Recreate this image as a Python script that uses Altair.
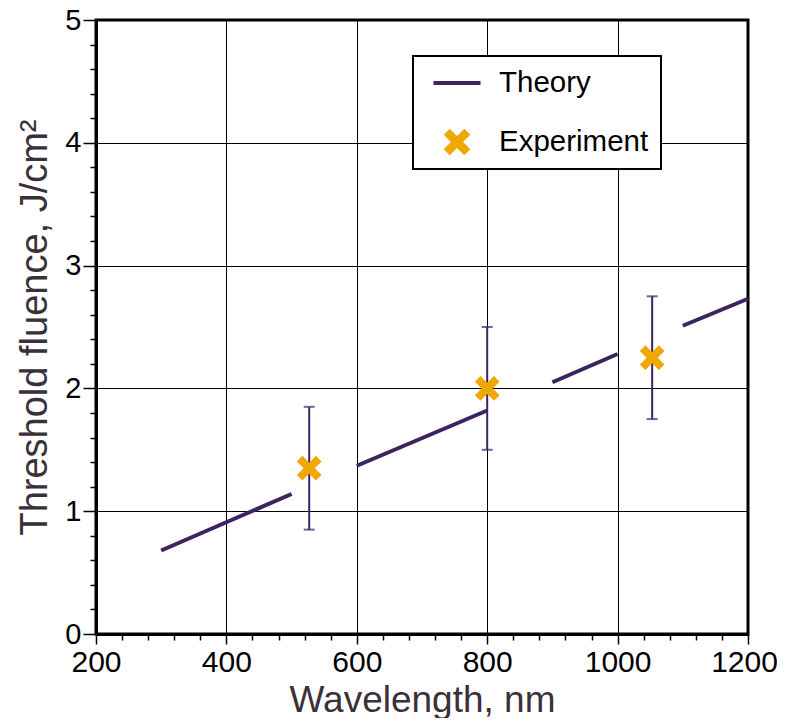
import altair as alt
import pandas as pd

# ---- data ----
theory_x = [300, 500, 600, 800, 900, 1000, 1100, 1200]
theory_y = [0.68, 1.14, 1.37, 1.82, 2.05, 2.28, 2.51, 2.73]
theory_seg = [1, 1, 2, 2, 3, 3, 4, 4]

exp_x = [527, 800, 1053]
exp_y = [1.35, 2.0, 2.25]
exp_lo = [0.85, 1.5, 1.75]
exp_hi = [1.85, 2.5, 2.75]

series = ["Theory", "Experiment"]
x_ticks = [200, 240, 280, 320, 360, 400, 440, 480, 520, 560, 600, 640, 680, 720, 760, 800,
           840, 880, 920, 960, 1000, 1040, 1080, 1120, 1160, 1200]
y_ticks = [0, 0.2, 0.4, 0.6, 0.8, 1, 1.2, 1.4, 1.6, 1.8, 2, 2.2, 2.4, 2.6, 2.8, 3,
           3.2, 3.4, 3.6, 3.8, 4, 4.2, 4.4, 4.6, 4.8, 5]

PURPLE = "#3d2461"
ORANGE = "#f0a800"
TITLE_COLOR = "#3b3038"
FONT = "Liberation Sans"

theory = pd.DataFrame({"x": theory_x, "y": theory_y, "seg": theory_seg})
exp = pd.DataFrame({"x": exp_x, "y": exp_y, "lo": exp_lo, "hi": exp_hi,
                    "series": ["Experiment"] * len(exp_x)})

LINE_PATH = "M-1.68,-0.14L1.68,-0.14L1.68,0.14L-1.68,0.14Z"
X_PATH = ("M-0.95,-0.52L-0.52,-0.95L0,-0.43L0.52,-0.95L0.95,-0.52L0.43,0L0.95,0.52"
          "L0.52,0.95L0,0.43L-0.52,0.95L-0.95,0.52L-0.43,0Z")

xmajor = "datum.value % 200 === 0"
ymajor = "abs(datum.value - round(datum.value)) < 1e-6"

x_scale = alt.Scale(domain=[200, 1200], nice=False, zero=False)
y_scale = alt.Scale(domain=[0, 5], nice=False)

x_axis = alt.Axis(
    values=x_ticks,
    tickCount=100,
    format="d",
    labelOverlap=False,
    labelExpr=f"{xmajor} ? datum.label : ''",
    labelOffset={"condition": {"test": "datum.value === 1200", "value": -4}, "value": 0},
    tickSize={"condition": {"test": xmajor, "value": 10}, "value": 6},
    gridOpacity={"condition": {"test": xmajor, "value": 1}, "value": 0},
    title="Wavelength, nm",
)
y_axis = alt.Axis(
    values=y_ticks,
    tickCount=100,
    format="~g",
    labelOverlap=False,
    labelExpr=f"{ymajor} ? datum.label : ''",
    tickSize={"condition": {"test": ymajor, "value": 13}, "value": 6},
    gridOpacity={"condition": {"test": ymajor, "value": 1}, "value": 0},
    title="Threshold fluence, J/cm²",
)

legend = alt.Legend(
    title=None,
    orient="none",
    legendX=317,
    legendY=36,
    padding=12,
    rowPadding=29,
    symbolSize=784,
    symbolOffset=17,
    labelOffset=27,
    labelFontSize=29.5,
    labelFont=FONT,
    labelColor="black",
    fillColor="white",
    strokeColor="black",
)

base_x = alt.X("x:Q", scale=x_scale, axis=x_axis)

line = alt.Chart(theory).mark_line(strokeWidth=4, color=PURPLE).encode(
    x=base_x,
    y=alt.Y("y:Q", scale=y_scale, axis=y_axis),
    detail="seg:N",
)

rule = alt.Chart(exp).mark_rule(strokeWidth=2, color=PURPLE).encode(
    x="x:Q", y="lo:Q", y2="hi:Q"
)
cap_lo = alt.Chart(exp).mark_tick(orient="horizontal", size=11, thickness=2, color=PURPLE).encode(
    x="x:Q", y="lo:Q"
)
cap_hi = alt.Chart(exp).mark_tick(orient="horizontal", size=11, thickness=2, color=PURPLE).encode(
    x="x:Q", y="hi:Q"
)

points = alt.Chart(exp).mark_point(filled=True, opacity=1, size=676, strokeWidth=0).encode(
    x="x:Q",
    y="y:Q",
    color=alt.Color("series:N", scale=alt.Scale(domain=series, range=[PURPLE, ORANGE]), legend=legend),
    shape=alt.Shape("series:N", scale=alt.Scale(domain=series, range=[LINE_PATH, X_PATH]), legend=legend),
)

chart = (
    alt.layer(line, rule, cap_lo, cap_hi, points)
    .properties(
        width=652,
        height=614,
        autosize=alt.AutoSizeParams(type="none"),
        padding={"left": 88, "top": 12, "right": 29, "bottom": 84},
    )
    .configure_view(stroke="black", strokeWidth=3)
    .configure_axis(
        labelFont=FONT,
        labelColor="black",
        titleFont=FONT,
        titleFontWeight="normal",
        titleColor=TITLE_COLOR,
        domainColor="black",
        domainWidth=3,
        tickColor="black",
        tickWidth=1.5,
        gridColor="black",
        gridWidth=1,
        labelPadding=2,
    )
    .configure_axisX(labelFontSize=30, titleFontSize=37, titlePadding=5, labelPadding=3,
                     labelFlush=False)
    .configure_axisY(labelFontSize=29, titleFontSize=38, titlePadding=10)
    .configure_legend(strokeWidth=2)
)

chart.save("out.html", embed_options={"renderer": "svg", "actions": False})
